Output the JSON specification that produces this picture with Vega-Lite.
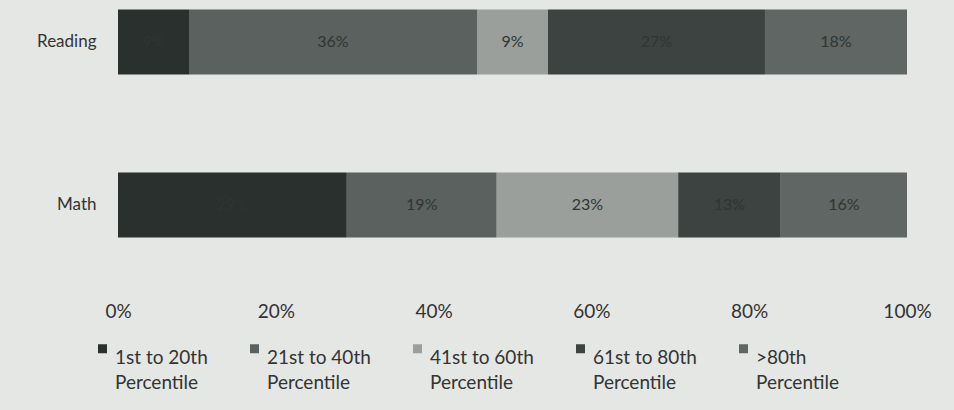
{
  "$schema": "https://vega.github.io/schema/vega-lite/v6.json",
  "width": 789,
  "height": 247,
  "autosize": {"type": "none"},
  "padding": {"left": 118, "top": 0, "right": 47, "bottom": 163},
  "background": "#e4e7e4",
  "config": {
    "view": {"stroke": null},
    "font": "Lato",
    "style": {"guide-label": {"lineHeight": 25}}
  },
  "data": {
    "values": [
      {"subject": "Reading", "band": "1st to 20th|Percentile", "rank": 1, "value": 9, "label": "9%"},
      {"subject": "Reading", "band": "21st to 40th|Percentile", "rank": 2, "value": 36.5, "label": "36%"},
      {"subject": "Reading", "band": "41st to 60th|Percentile", "rank": 3, "value": 9, "label": "9%"},
      {"subject": "Reading", "band": "61st to 80th|Percentile", "rank": 4, "value": 27.5, "label": "27%"},
      {"subject": "Reading", "band": ">80th|Percentile", "rank": 5, "value": 18, "label": "18%"},
      {"subject": "Math", "band": "1st to 20th|Percentile", "rank": 1, "value": 29, "label": "29%"},
      {"subject": "Math", "band": "21st to 40th|Percentile", "rank": 2, "value": 19, "label": "19%"},
      {"subject": "Math", "band": "41st to 60th|Percentile", "rank": 3, "value": 23, "label": "23%"},
      {"subject": "Math", "band": "61st to 80th|Percentile", "rank": 4, "value": 13, "label": "13%"},
      {"subject": "Math", "band": ">80th|Percentile", "rank": 5, "value": 16, "label": "16%"}
    ]
  },
  "transform": [
    {"stack": "value", "groupby": ["subject"], "sort": [{"field": "rank", "order": "ascending"}], "as": ["start", "end"]},
    {"calculate": "(datum.start + datum.end) / 2", "as": "mid"}
  ],
  "encoding": {
    "y": {
      "field": "subject", "type": "nominal", "sort": ["Reading", "Math"],
      "scale": {"paddingInner": 0.6, "paddingOuter": 0.058},
      "axis": {"title": null, "domain": false, "ticks": false, "labelFontSize": 17, "labelColor": "#333333", "labelPadding": 22, "labelFont": "Lato"}
    }
  },
  "layer": [
    {
      "mark": {"type": "bar"},
      "encoding": {
        "x": {
          "field": "start", "type": "quantitative",
          "scale": {"domain": [0, 100], "nice": false},
          "axis": {"title": null, "values": [0, 20, 40, 60, 80, 100], "labelExpr": "datum.value + '%'", "grid": false, "domain": false, "ticks": false, "labelFontSize": 19, "labelColor": "#333333", "offset": 52, "labelPadding": 3, "labelFont": "Lato", "labelFlush": false}
        },
        "x2": {"field": "end"},
        "color": {
          "field": "band", "type": "nominal",
          "scale": {
            "domain": ["1st to 20th|Percentile", "21st to 40th|Percentile", "41st to 60th|Percentile", "61st to 80th|Percentile", ">80th|Percentile"],
            "range": ["#2a302e", "#5a615e", "#9a9f9c", "#3c4340", "#5f6663"]
          },
          "legend": {
            "orient": "none", "legendX": -25, "legendY": 339, "direction": "horizontal", "columns": 5,
            "title": null, "symbolType": "square", "symbolSize": 81, "symbolStrokeWidth": 0,
            "labelFontSize": 19, "labelColor": "#333333", "labelFont": "Lato",
            "labelExpr": "split(datum.label, '|')", "labelBaseline": "top", "labelOffset": 3,
            "columnPadding": 37, "labelLimit": 200
          }
        }
      }
    },
    {
      "mark": {"type": "text", "fontSize": 16, "color": "#2f3533", "font": "Lato"},
      "encoding": {
        "x": {"field": "mid", "type": "quantitative"},
        "text": {"field": "label", "type": "nominal"}
      }
    }
  ]
}
